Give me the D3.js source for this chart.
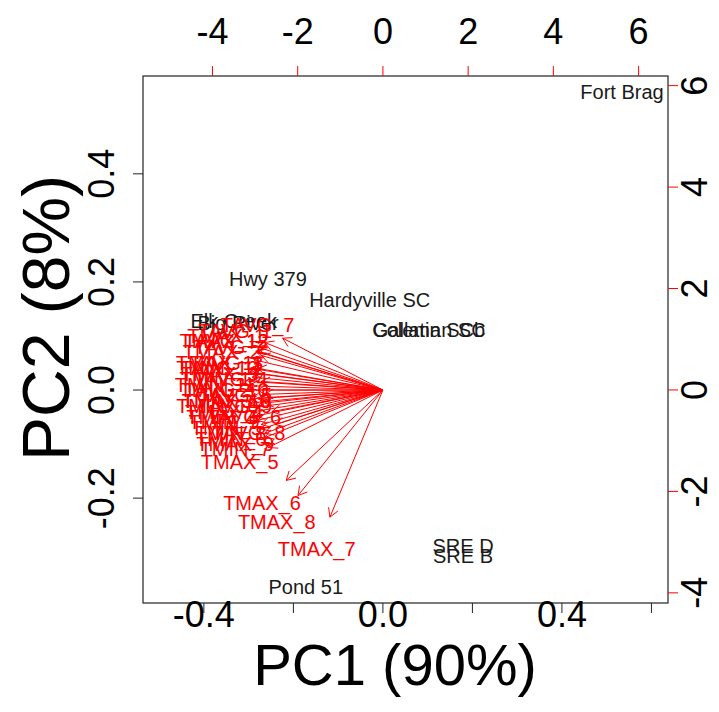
<!DOCTYPE html>
<html>
<head>
<meta charset="utf-8">
<script src="https://cdn.jsdelivr.net/npm/d3@7"></script>
<style>
  body { margin: 0; background: #fff; }
  text { font-family: "Liberation Sans", Arial, sans-serif; }
</style>
</head>
<body>
<svg id="biplot"></svg>
<script>
// observation scores (PC1, PC2), drawn as text against the top / right axes
var siteNames = ["Elk Creek", "Big River", "Fort Brag", "Hwy 379", "Hardyville SC", "Coleman SC", "Gallatin SCb", "SRE D", "SRE B", "Pond 51"];
var sitePC1 = [-3.50, -3.40, 5.61, -2.70, -0.31, 1.08, 1.08, 1.88, 1.88, -1.81];
var sitePC2 = [1.36, 1.32, 5.88, 2.19, 1.78, 1.18, 1.18, -3.08, -3.27, -3.89];

// variable loadings (PC1, PC2), drawn as red arrows against the bottom / left axes
var varNames = ["TMAX_1", "TMAX_2", "TMAX_3", "TMAX_4", "TMAX_5", "TMAX_6", "TMAX_7", "TMAX_8", "TMAX_9", "TMAX_10", "TMAX_11", "TMAX_12",
                "TMIN_1", "TMIN_2", "TMIN_3", "TMIN_4", "TMIN_5", "TMIN_6", "TMIN_7", "TMIN_8", "TMIN_9", "TMIN_10", "TMIN_11", "TMIN_12",
                "TAVG_1", "TAVG_2", "TAVG_3", "TAVG_4", "TAVG_5", "TAVG_6", "TAVG_7", "TAVG_8", "TAVG_9", "TAVG_10", "TAVG_11", "TAVG_12"];
var varPC1 = [-0.35, -0.36, -0.365, -0.355, -0.32, -0.27, -0.148, -0.237, -0.33, -0.35, -0.365, -0.355,
              -0.375, -0.375, -0.37, -0.36, -0.35, -0.34, -0.33, -0.34, -0.355, -0.37, -0.375, -0.37,
              -0.33, -0.34, -0.35, -0.34, -0.33, -0.31, -0.28, -0.30, -0.33, -0.35, -0.36, -0.35];
var varPC2 = [0.10, 0.07, 0.03, -0.04, -0.133, -0.209, -0.294, -0.244, -0.10, -0.02, 0.05, 0.09,
              0.02, 0.00, -0.02, -0.05, -0.07, -0.09, -0.11, -0.08, -0.06, -0.03, 0.01, 0.04,
              0.11, 0.08, 0.05, 0.02, -0.01, -0.05, 0.12, -0.08, -0.03, 0.00, 0.04, 0.09];

var loadTicksX = [-0.4, -0.2, 0.0, 0.2, 0.4, 0.6];
var loadLabelsX = [-0.4, 0.0, 0.4];
var loadTicksY = [-0.2, 0.0, 0.2, 0.4];
var scoreTicks = [-4, -2, 0, 2, 4, 6];

var dims = { width: 719, height: 712, left: 143, right: 668, top: 76, bottom: 603 };

var svg = d3.select("#biplot")
    .attr("width", dims.width)
    .attr("height", dims.height);

var xLoad = d3.scaleLinear().domain([-0.536, 0.637]).range([dims.left, dims.right]);
var yLoad = d3.scaleLinear().domain([-0.394, 0.581]).range([dims.bottom, dims.top]);
var xScore = d3.scaleLinear().domain([-5.63, 6.69]).range([dims.left, dims.right]);
var yScore = d3.scaleLinear().domain([-4.2, 6.19]).range([dims.bottom, dims.top]);

var fmt = d => d3.format(".1f")(d).replace("−", "-");

var sites = siteNames.map(function(n, i) { return { name: n, x: sitePC1[i], y: sitePC2[i] }; });
var vars = varNames.map(function(n, i) { return { name: n, x: varPC1[i], y: varPC2[i] }; });

// scores first (R draws them under the arrows)
svg.append("g").selectAll("text")
    .data(sites)
    .enter()
    .append("text")
    .attr("x", d => xScore(d.x))
    .attr("y", d => yScore(d.y))
    .attr("dy", "0.35em")
    .attr("text-anchor", "middle")
    .attr("font-size", 20)
    .attr("fill", "#1a1a1a")
    .text(d => d.name);

// arrows to 80% of the label position, like biplot()
var arrows = svg.append("g")
    .attr("stroke", "#ff0000")
    .attr("stroke-width", 1)
    .attr("fill", "none");

arrows.selectAll("path")
    .data(vars)
    .enter()
    .append("path")
    .attr("d", function(d) {
        var x0 = xLoad(0), y0 = yLoad(0);
        var x1 = xLoad(d.x * 0.8), y1 = yLoad(d.y * 0.8);
        var a = Math.atan2(y1 - y0, x1 - x0);
        var len = 10, spread = Math.PI / 6;
        var p = "M" + x0 + "," + y0 + "L" + x1 + "," + y1;
        p += "M" + (x1 - len * Math.cos(a - spread)) + "," + (y1 - len * Math.sin(a - spread));
        p += "L" + x1 + "," + y1;
        p += "L" + (x1 - len * Math.cos(a + spread)) + "," + (y1 - len * Math.sin(a + spread));
        return p;
    });

svg.append("g").selectAll("text")
    .data(vars)
    .enter()
    .append("text")
    .attr("x", d => xLoad(d.x))
    .attr("y", d => yLoad(d.y))
    .attr("dy", "0.35em")
    .attr("text-anchor", "middle")
    .attr("font-size", 20)
    .attr("fill", "#ff0000")
    .text(d => d.name);

// box
svg.append("rect")
    .attr("x", dims.left)
    .attr("y", dims.top)
    .attr("width", dims.right - dims.left)
    .attr("height", dims.bottom - dims.top)
    .attr("fill", "none")
    .attr("stroke", "#222")
    .attr("stroke-width", 1.2);

// bottom axis (loadings)
var axBottom = svg.append("g");
axBottom.selectAll("line")
    .data(loadTicksX)
    .enter()
    .append("line")
    .attr("x1", d => xLoad(d)).attr("x2", d => xLoad(d))
    .attr("y1", dims.bottom).attr("y2", dims.bottom + 10)
    .attr("stroke", "#222");
axBottom.selectAll("text")
    .data(loadLabelsX)
    .enter()
    .append("text")
    .attr("x", d => xLoad(d))
    .attr("y", 614)
    .attr("dy", "0.35em")
    .attr("text-anchor", "middle")
    .attr("font-size", 36)
    .text(fmt);

// left axis (loadings)
var axLeft = svg.append("g");
axLeft.selectAll("line")
    .data(loadTicksY)
    .enter()
    .append("line")
    .attr("x1", dims.left - 10).attr("x2", dims.left)
    .attr("y1", d => yLoad(d)).attr("y2", d => yLoad(d))
    .attr("stroke", "#222");
axLeft.selectAll("text")
    .data(loadTicksY)
    .enter()
    .append("text")
    .attr("transform", d => "translate(101," + yLoad(d) + ") rotate(-90)")
    .attr("dy", "0.35em")
    .attr("text-anchor", "middle")
    .attr("font-size", 36)
    .text(fmt);

// top axis (scores)
var axTop = svg.append("g");
axTop.selectAll("line")
    .data(scoreTicks)
    .enter()
    .append("line")
    .attr("x1", d => xScore(d)).attr("x2", d => xScore(d))
    .attr("y1", dims.top - 10).attr("y2", dims.top)
    .attr("stroke", "#ff0000");
axTop.selectAll("text")
    .data(scoreTicks)
    .enter()
    .append("text")
    .attr("x", d => xScore(d))
    .attr("y", 31)
    .attr("dy", "0.35em")
    .attr("text-anchor", "middle")
    .attr("font-size", 36)
    .text(d => String(d));

// right axis (scores)
var axRight = svg.append("g");
axRight.selectAll("line")
    .data(scoreTicks)
    .enter()
    .append("line")
    .attr("x1", dims.right).attr("x2", dims.right + 10)
    .attr("y1", d => yScore(d)).attr("y2", d => yScore(d))
    .attr("stroke", "#ff0000");
axRight.selectAll("text")
    .data(scoreTicks)
    .enter()
    .append("text")
    .attr("transform", d => "translate(694," + yScore(d) + ") rotate(-90)")
    .attr("dy", "0.35em")
    .attr("text-anchor", "middle")
    .attr("font-size", 36)
    .text(d => String(d));

// axis titles
svg.append("text")
    .attr("x", 395)
    .attr("y", 665)
    .attr("dy", "0.35em")
    .attr("text-anchor", "middle")
    .attr("font-size", 58)
    .text("PC1 (90%)");

svg.append("text")
    .attr("transform", "translate(46,318) rotate(-90)")
    .attr("dy", "0.35em")
    .attr("text-anchor", "middle")
    .attr("font-size", 66)
    .text("PC2 (8%)");
</script>
</body>
</html>
